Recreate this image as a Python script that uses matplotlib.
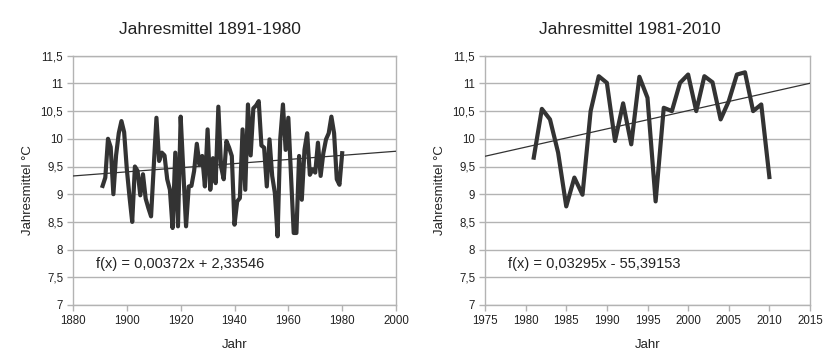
import numpy as np
import matplotlib
matplotlib.use("Agg")
import matplotlib.pyplot as plt
from matplotlib.ticker import FuncFormatter

plt.rcParams['font.family'] = ['Liberation Sans', 'DejaVu Sans']

# Jahresmittel 1891-1980
years_old = list(range(1891, 1981))
temps_old = [
    9.15, 9.30, 10.00, 9.85, 9.00, 9.70, 10.10, 10.32, 10.12, 9.45,   # 1891-1900
    8.95, 8.50, 9.50, 9.42, 8.98, 9.36, 8.92, 8.75, 8.60, 9.50,       # 1901-1910
    10.38, 9.60, 9.75, 9.70, 9.27, 9.08, 8.39, 9.75, 8.42, 10.40,     # 1911-1920
    9.40, 8.42, 9.14, 9.15, 9.42, 9.91, 9.53, 9.69, 9.14, 10.17,      # 1921-1930
    9.08, 9.65, 9.20, 10.58, 9.50, 9.27, 9.96, 9.84, 9.69, 8.45,      # 1931-1940
    8.87, 8.93, 10.17, 9.08, 10.62, 9.70, 10.55, 10.60, 10.68, 9.88,  # 1941-1950
    9.84, 9.14, 9.99, 9.33, 9.02, 8.24, 10.00, 10.62, 9.80, 10.38,    # 1951-1960
    9.33, 8.30, 8.30, 9.69, 8.90, 9.80, 10.10, 9.35, 9.45, 9.39,      # 1961-1970
    9.93, 9.33, 9.74, 9.99, 10.10, 10.40, 10.10, 9.27, 9.17, 9.74,    # 1971-1980
]

# Jahresmittel 1981-2010
years_new = list(range(1981, 2011))
temps_new = [
    9.66, 10.54, 10.35, 9.75, 8.78, 9.30, 8.99, 10.50, 11.13, 11.01,  # 1981-1990
    9.96, 10.64, 9.90, 11.12, 10.74, 8.87, 10.56, 10.50, 11.01, 11.16, # 1991-2000
    10.50, 11.13, 11.02, 10.35, 10.68, 11.16, 11.20, 10.50, 10.62, 9.31, # 2001-2010
]

# Trendlinien (Koeffizienten wie im Diagramm angegeben)
trend_old = (0.00372, 2.33546)
trend_new = (0.03295, -55.39153)
label_old = "f(x) = 0,00372x + 2,33546"
label_new = "f(x) = 0,03295x - 55,39153"

xlim_old = (1880, 2000)
xlim_new = (1975, 2015)
xticks_old = list(range(1880, 2001, 20))
xticks_new = list(range(1975, 2016, 5))
yticks = [7, 7.5, 8, 8.5, 9, 9.5, 10, 10.5, 11, 11.5]

LINE = '#333333'
GRID = '#b3b3b3'


def comma(v, pos):
    s = ('%g' % v).replace('.', ',')
    return s


def draw(ax, years, temps, trend, label, xlim, xticks):
    ax.plot(years, temps, color=LINE, lw=3.0, solid_joinstyle='round', zorder=3)
    tx = np.array(xlim, dtype=float)
    ax.plot(tx, trend[0] * tx + trend[1], color=LINE, lw=0.9, zorder=4)
    ax.set_xlim(*xlim)
    ax.set_ylim(7, 11.5)
    ax.set_xticks(xticks)
    ax.set_yticks(yticks)
    ax.yaxis.set_major_formatter(FuncFormatter(comma))
    ax.grid(axis='y', color=GRID, lw=1)
    ax.set_axisbelow(True)
    for s in ax.spines.values():
        s.set_color(GRID)
        s.set_linewidth(1)
    ax.tick_params(axis='both', colors=GRID, length=4, width=1, labelsize=8.3,
                   labelcolor='#222222', pad=3)
    ax.text(0.072, 0.165, label, transform=ax.transAxes, fontsize=10.5,
            color='#222222', va='center', ha='left')
    ax.set_xlabel('Jahr', fontsize=9.5, color='#222222', labelpad=9)


fig = plt.figure(figsize=(8.24, 3.53), dpi=100)
ax1 = fig.add_axes([73 / 824, 1 - 305 / 353, 323 / 824, 249.3 / 353])
ax2 = fig.add_axes([485 / 824, 1 - 305 / 353, 325 / 824, 249.3 / 353])

draw(ax1, years_old, temps_old, trend_old, label_old, xlim_old, xticks_old)
draw(ax2, years_new, temps_new, trend_new, label_new, xlim_new, xticks_new)

fig.text(210 / 824, 1 - 30 / 353, 'Jahresmittel 1891-1980', fontsize=12.5,
         ha='center', va='center', color='#222222')
fig.text(630 / 824, 1 - 30 / 353, 'Jahresmittel 1981-2010', fontsize=12.5,
         ha='center', va='center', color='#222222')
fig.text(28 / 824, 1 - 190 / 353, 'Jahresmittel °C', fontsize=9.5, rotation=90,
         ha='center', va='center', color='#222222')
fig.text(440 / 824, 1 - 190 / 353, 'Jahresmittel °C', fontsize=9.5, rotation=90,
         ha='center', va='center', color='#222222')

fig.savefig('out.png', dpi=100)
